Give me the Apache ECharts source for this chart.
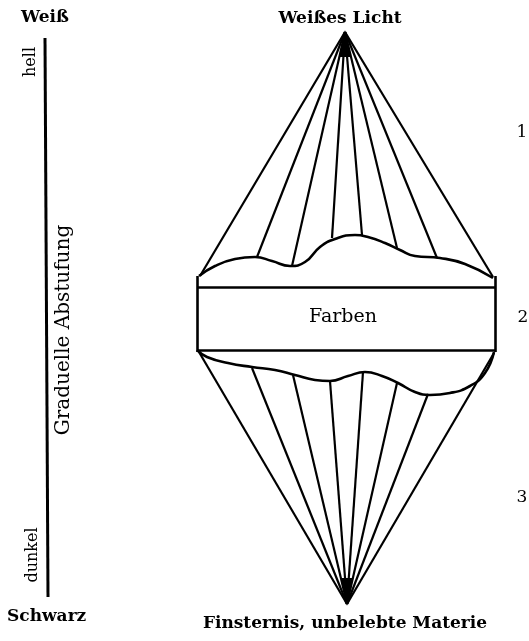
<!DOCTYPE html>
<html>
<head>
<meta charset="utf-8">
<script src="https://cdn.jsdelivr.net/npm/echarts@6/dist/echarts.min.js"></script>
<style>
  html, body { margin: 0; padding: 0; background: #fff; }
  #chart { width: 529px; height: 641px; }
</style>
</head>
<body>
<div id="chart"></div>
<script>
// diagram coordinates (pixel-like units, y downwards)
const topApex = [345, 32];
const bottomApex = [347, 604];
const topRayEnds = [[200, 276], [257, 257], [292, 266], [332, 238], [362, 235], [397, 248], [437, 258], [493, 277]];
const bottomRayEnds = [[199, 352], [252, 368], [293, 375], [330, 381], [363, 372], [397, 383], [428, 394], [494, 353]];
const topCurve = [[199, 276], [215, 266], [235, 259], [255, 257], [272, 261], [290, 266], [305, 262], [320, 247], [335, 239], [355, 235], [368, 237], [385, 243], [400, 250], [415, 256], [440, 258], [465, 264], [493, 278]];
const bottomCurve = [[197, 350], [207, 357], [228, 363], [252, 367], [275, 370], [295, 375], [315, 380], [330, 381], [348, 376], [365, 372], [382, 376], [398, 383], [415, 392], [430, 395], [450, 393], [470, 386], [485, 373], [494, 352]];
const boxLines = [
  [[197, 287], [495, 287]],
  [[197, 350], [495, 350]],
  [[197, 276], [197, 352]],
  [[495, 276], [495, 352]]
];
const scaleLine = [[45, 38], [48, 597]];
const topTip = [[339, 57], [345, 30], [351, 57]];
const bottomTip = [[341, 578], [347, 606], [353, 578]];

const serif = '"DejaVu Serif", "Liberation Serif", serif';

const chart = echarts.init(document.getElementById('chart'));

const rays = [];
topRayEnds.forEach(p => rays.push({ coords: [topApex, p] }));
bottomRayEnds.forEach(p => rays.push({ coords: [bottomApex, p] }));
boxLines.forEach(l => rays.push({ coords: l, lineStyle: { width: 2.6 } }));
rays.push({ coords: scaleLine, lineStyle: { width: 3 } });

const tipSeries = (pts) => ({
  type: 'custom',
  silent: true,
  renderItem: (params, api) => ({
    type: 'polygon',
    shape: { points: pts.map(p => api.coord(p)) },
    style: { fill: '#000' }
  }),
  data: [0]
});

const curveSeries = (pts) => ({
  type: 'line',
  data: pts,
  smooth: 0.5,
  showSymbol: false,
  silent: true,
  lineStyle: { color: '#000', width: 2.6 }
});

const txt = (text, x, y, size, bold, rot, align) => ({
  type: 'text', x: x, y: y, rotation: rot || 0,
  style: {
    text: text, font: (bold ? 'bold ' : '') + size + 'px ' + serif,
    fill: '#000', align: align || 'center', verticalAlign: 'middle'
  }
});

chart.setOption({
  backgroundColor: '#fff',
  animation: false,
  grid: { left: 0, right: 0, top: 0, bottom: 0 },
  xAxis: { type: 'value', min: 0, max: 529, show: false },
  yAxis: { type: 'value', min: 0, max: 641, inverse: true, show: false },
  series: [
    {
      type: 'lines',
      coordinateSystem: 'cartesian2d',
      polyline: false,
      silent: true,
      lineStyle: { color: '#000', width: 2.2, opacity: 1 },
      data: rays
    },
    curveSeries(topCurve),
    curveSeries(bottomCurve),
    tipSeries(topTip),
    tipSeries(bottomTip)
  ],
  graphic: [
    txt('Weiß', 21, 18, 17, true, 0, 'left'),
    txt('Schwarz', 7, 617, 17, true, 0, 'left'),
    txt('Weißes Licht', 340, 19, 17, true),
    txt('Finsternis, unbelebte Materie', 345, 624, 17, true),
    txt('Farben', 343, 317, 19, false),
    txt('hell', 31, 62, 16, false, Math.PI / 2),
    txt('dunkel', 33, 555, 16, false, Math.PI / 2),
    txt('Graduelle Abstufung', 64, 330, 20, false, Math.PI / 2),
    txt('1', 522, 133, 17, false),
    txt('2', 523, 318, 17, false),
    txt('3', 522, 498, 17, false)
  ]
});
</script>
</body>
</html>
